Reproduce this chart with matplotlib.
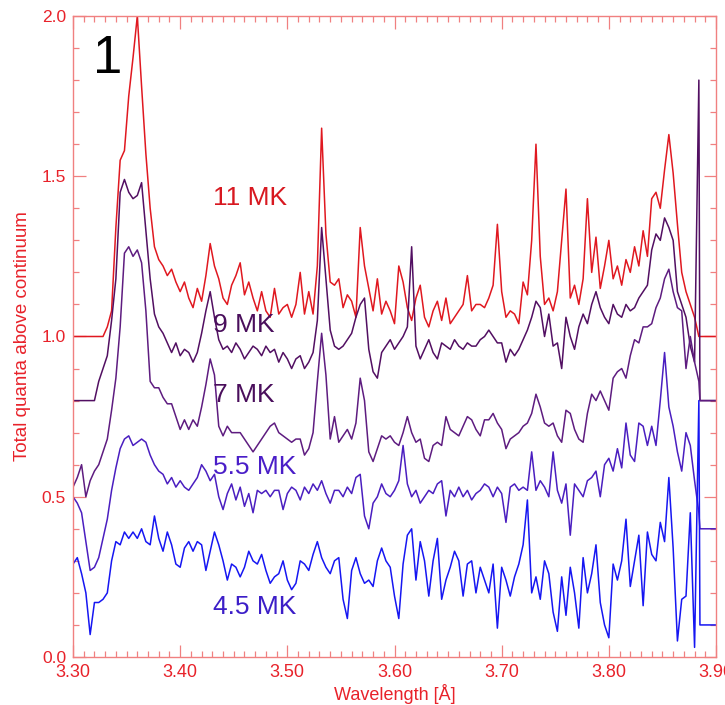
import numpy as np
import matplotlib.pyplot as plt
from matplotlib.ticker import MultipleLocator

plt.rcParams['font.family'] = ['Liberation Sans', 'DejaVu Sans']

# wavelength grid (Angstrom) and the flat run-out past the detector edge
wave = np.round(3.300 + 0.004 * np.arange(147), 3)
tail_wave = [3.885, 3.900]

# total quanta above continuum, offset per temperature
q_11mk = [1.00, 1.00, 1.00, 1.00, 1.00, 1.00, 1.00, 1.00, 1.03, 1.08,
          1.34, 1.55, 1.58, 1.75, 1.87, 2.00, 1.78, 1.57, 1.40, 1.28,
          1.24, 1.22, 1.19, 1.21, 1.17, 1.14, 1.17, 1.12, 1.09, 1.15,
          1.11, 1.19, 1.29, 1.22, 1.18, 1.12, 1.10, 1.16, 1.19, 1.23,
          1.13, 1.17, 1.12, 1.08, 1.14, 1.08, 1.06, 1.15, 1.07, 1.09,
          1.10, 1.06, 1.10, 1.20, 1.07, 1.14, 1.07, 1.22, 1.65, 1.32,
          1.17, 1.16, 1.18, 1.09, 1.13, 1.11, 1.06, 1.34, 1.22, 1.15,
          1.08, 1.18, 1.07, 1.11, 1.08, 1.04, 1.22, 1.17, 1.09, 1.05,
          1.12, 1.16, 1.06, 1.03, 1.08, 1.11, 1.05, 1.12, 1.04, 1.06,
          1.08, 1.10, 1.19, 1.08, 1.10, 1.10, 1.09, 1.12, 1.16, 1.35,
          1.14, 1.06, 1.08, 1.07, 1.04, 1.17, 1.13, 1.30, 1.60, 1.25,
          1.10, 1.12, 1.08, 1.14, 1.30, 1.46, 1.12, 1.16, 1.10, 1.18,
          1.43, 1.20, 1.31, 1.15, 1.22, 1.30, 1.18, 1.22, 1.16, 1.24,
          1.20, 1.28, 1.22, 1.33, 1.25, 1.43, 1.45, 1.40, 1.52, 1.63,
          1.51, 1.35, 1.20, 1.14, 1.10, 1.06, 1.00]

q_9mk = [0.80, 0.80, 0.80, 0.80, 0.80, 0.80, 0.86, 0.90, 0.94, 1.05,
         1.18, 1.45, 1.49, 1.45, 1.43, 1.44, 1.48, 1.33, 1.18, 1.07,
         1.03, 1.01, 0.98, 0.95, 0.98, 0.94, 0.96, 0.95, 0.92, 0.95,
         1.01, 1.08, 1.14, 1.06, 0.99, 0.96, 0.97, 0.95, 0.98, 0.96,
         0.93, 0.95, 0.97, 0.96, 0.94, 0.97, 0.95, 0.96, 0.92, 0.95,
         0.93, 0.90, 0.93, 0.94, 0.90, 0.92, 0.95, 1.05, 1.34, 1.18,
         1.02, 0.97, 0.96, 0.97, 0.99, 1.01, 1.06, 1.10, 1.12, 0.96,
         0.89, 0.87, 0.95, 0.97, 0.99, 0.96, 0.98, 1.00, 1.03, 1.28,
         0.97, 0.93, 0.96, 0.99, 0.95, 0.93, 0.98, 0.97, 0.96, 0.99,
         0.97, 0.96, 0.98, 0.97, 0.97, 0.99, 1.00, 1.02, 1.00, 0.98,
         0.98, 0.92, 0.96, 0.94, 0.96, 0.99, 1.02, 1.06, 1.11, 1.09,
         1.00, 1.07, 0.97, 0.98, 0.90, 1.06, 1.00, 0.96, 1.03, 1.07,
         1.04, 1.10, 1.14, 1.09, 1.06, 1.04, 1.10, 1.07, 1.06, 1.10,
         1.08, 1.09, 1.12, 1.14, 1.16, 1.27, 1.32, 1.30, 1.37, 1.34,
         1.30, 1.14, 1.10, 1.06, 0.97, 0.92, 1.80]

q_7mk = [0.53, 0.56, 0.60, 0.50, 0.55, 0.58, 0.60, 0.64, 0.68, 0.77,
         0.87, 1.03, 1.26, 1.28, 1.25, 1.27, 1.23, 1.08, 0.86, 0.84,
         0.84, 0.81, 0.79, 0.79, 0.75, 0.71, 0.74, 0.71, 0.74, 0.72,
         0.78, 0.85, 0.93, 0.88, 0.72, 0.69, 0.72, 0.70, 0.70, 0.70,
         0.68, 0.66, 0.64, 0.66, 0.68, 0.70, 0.72, 0.73, 0.70, 0.69,
         0.68, 0.67, 0.68, 0.68, 0.63, 0.65, 0.70, 0.86, 1.01, 0.88,
         0.68, 0.75, 0.67, 0.69, 0.71, 0.68, 0.73, 0.87, 0.80, 0.64,
         0.61, 0.65, 0.69, 0.68, 0.69, 0.67, 0.66, 0.70, 0.75, 0.70,
         0.67, 0.68, 0.62, 0.61, 0.66, 0.67, 0.66, 0.75, 0.71, 0.70,
         0.69, 0.72, 0.75, 0.74, 0.71, 0.69, 0.74, 0.74, 0.76, 0.73,
         0.71, 0.65, 0.68, 0.69, 0.70, 0.72, 0.73, 0.76, 0.82, 0.78,
         0.73, 0.72, 0.73, 0.69, 0.67, 0.77, 0.76, 0.71, 0.68, 0.67,
         0.76, 0.82, 0.80, 0.83, 0.80, 0.77, 0.87, 0.89, 0.90, 0.87,
         0.94, 0.99, 0.98, 1.03, 1.03, 1.04, 1.09, 1.12, 1.18, 1.21,
         1.14, 1.09, 1.08, 0.90, 1.00, 0.92, 0.86]

q_5p5mk = [0.50, 0.48, 0.45, 0.36, 0.27, 0.28, 0.31, 0.37, 0.43, 0.52,
           0.59, 0.65, 0.68, 0.69, 0.66, 0.67, 0.68, 0.67, 0.63, 0.60,
           0.58, 0.57, 0.54, 0.56, 0.53, 0.55, 0.53, 0.52, 0.54, 0.56,
           0.60, 0.58, 0.55, 0.57, 0.50, 0.46, 0.51, 0.54, 0.49, 0.53,
           0.47, 0.51, 0.45, 0.52, 0.51, 0.52, 0.50, 0.52, 0.52, 0.46,
           0.51, 0.53, 0.52, 0.49, 0.53, 0.51, 0.54, 0.52, 0.55, 0.51,
           0.48, 0.52, 0.52, 0.50, 0.53, 0.51, 0.56, 0.57, 0.44, 0.40,
           0.48, 0.50, 0.54, 0.51, 0.50, 0.52, 0.55, 0.66, 0.54, 0.50,
           0.52, 0.48, 0.50, 0.52, 0.51, 0.54, 0.55, 0.44, 0.52, 0.50,
           0.53, 0.50, 0.52, 0.49, 0.51, 0.52, 0.54, 0.53, 0.50, 0.53,
           0.51, 0.42, 0.53, 0.54, 0.52, 0.53, 0.52, 0.64, 0.52, 0.55,
           0.53, 0.50, 0.64, 0.52, 0.48, 0.54, 0.38, 0.54, 0.52, 0.50,
           0.55, 0.56, 0.58, 0.50, 0.60, 0.62, 0.58, 0.65, 0.59, 0.73,
           0.63, 0.61, 0.73, 0.72, 0.66, 0.72, 0.66, 0.80, 0.95, 0.78,
           0.72, 0.64, 0.58, 0.70, 0.66, 0.55, 0.45]

q_4p5mk = [0.29, 0.31, 0.26, 0.20, 0.07, 0.17, 0.17, 0.18, 0.20, 0.30,
           0.36, 0.35, 0.39, 0.37, 0.39, 0.37, 0.40, 0.36, 0.35, 0.44,
           0.37, 0.33, 0.39, 0.35, 0.29, 0.28, 0.34, 0.36, 0.33, 0.36,
           0.35, 0.27, 0.33, 0.39, 0.35, 0.30, 0.24, 0.29, 0.28, 0.25,
           0.28, 0.33, 0.30, 0.29, 0.32, 0.27, 0.23, 0.25, 0.26, 0.30,
           0.24, 0.21, 0.23, 0.30, 0.29, 0.27, 0.32, 0.36, 0.31, 0.28,
           0.26, 0.30, 0.31, 0.18, 0.12, 0.27, 0.31, 0.26, 0.23, 0.24,
           0.22, 0.30, 0.34, 0.30, 0.28, 0.19, 0.12, 0.29, 0.38, 0.40,
           0.24, 0.36, 0.30, 0.19, 0.30, 0.37, 0.18, 0.24, 0.28, 0.33,
           0.30, 0.19, 0.29, 0.30, 0.20, 0.28, 0.24, 0.20, 0.29, 0.09,
           0.28, 0.24, 0.19, 0.25, 0.29, 0.35, 0.49, 0.20, 0.25, 0.18,
           0.30, 0.26, 0.14, 0.08, 0.25, 0.13, 0.28, 0.20, 0.09, 0.31,
           0.20, 0.26, 0.35, 0.17, 0.10, 0.06, 0.29, 0.24, 0.30, 0.43,
           0.22, 0.30, 0.38, 0.16, 0.39, 0.32, 0.30, 0.42, 0.36, 0.56,
           0.34, 0.05, 0.18, 0.19, 0.45, 0.03, 0.80]

# level each trace settles to past the edge
tail_levels = [1.0, 0.8, 0.8, 0.4, 0.1]

temps = ['11 MK', '9 MK', '7 MK', '5.5 MK', '4.5 MK']
series = [q_11mk, q_9mk, q_7mk, q_5p5mk, q_4p5mk]

line_colors = ['#e01820', '#520f62', '#5e1c80', '#4a1ec0', '#1616f2']
text_colors = ['#d81820', '#4a0e5c', '#4a0e5c', '#4a1ec8', '#3c1ec8']
label_y = [1.432, 1.036, 0.817, 0.593, 0.156]

axis_red = '#f08080'
text_red = '#e8222a'

fig = plt.figure(figsize=(7.25, 7.05), dpi=100)
ax = fig.add_axes([0.1007, 0.0681, 0.8869, 0.9092])

for vals, tail, col in zip(series, tail_levels, line_colors):
    x = np.concatenate([wave, tail_wave])
    y = np.concatenate([vals, [tail, tail]])
    ax.plot(x, y, color=col, lw=1.1)

for name, yy, col in zip(temps, label_y, text_colors):
    ax.text(3.4306, yy, name, color=col, fontsize=19, ha='left', va='center')

ax.text(3.3327, 1.866, '1', color='black', fontsize=38, ha='center', va='center')

ax.set_xlim(3.30, 3.90)
ax.set_ylim(0.0, 2.0)
ax.xaxis.set_major_locator(MultipleLocator(0.1))
ax.xaxis.set_minor_locator(MultipleLocator(0.01))
ax.yaxis.set_major_locator(MultipleLocator(0.5))
ax.yaxis.set_minor_locator(MultipleLocator(0.1))
ax.xaxis.set_major_formatter('{x:.2f}')
ax.yaxis.set_major_formatter('{x:.1f}')

ax.tick_params(which='both', direction='in', top=True, right=True,
               color=axis_red, labelcolor=text_red, width=0.9)
ax.tick_params(which='major', length=9)
ax.tick_params(which='minor', length=4.5)
ax.tick_params(axis='x', labelsize=13, pad=5)
ax.tick_params(axis='y', labelsize=12.5, pad=5)
for sp in ax.spines.values():
    sp.set_color(axis_red)
    sp.set_linewidth(1.0)

ax.set_xlabel('Wavelength [Å]', color=text_red, fontsize=13, labelpad=2)
ax.set_ylabel('Total quanta above continuum', color=text_red, fontsize=13.5, labelpad=8)

fig.savefig('out.png', dpi=100)
